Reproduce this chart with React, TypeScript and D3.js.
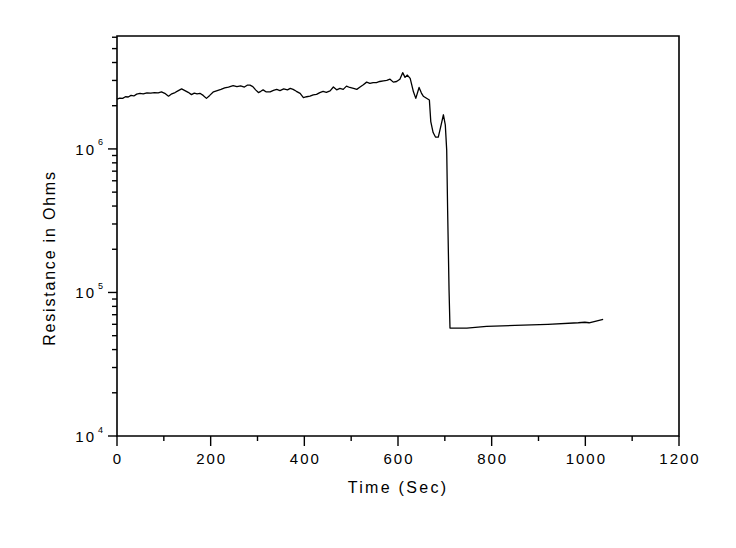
import React from 'react'
import * as d3 from 'd3'

// time in seconds
const times = [
  0, 6, 12, 18, 24, 30, 36, 42, 49, 56, 64, 72, 80, 88, 95, 102, 110, 117, 124, 131,
  138, 145, 152, 159, 165, 171, 177, 184, 191, 198, 206, 214, 222, 230, 238, 248, 256, 264, 272, 278,
  284, 290, 296, 302, 307, 312, 318, 327, 334, 341, 348, 356, 364, 370, 376, 383, 391, 398, 405, 412,
  419, 426, 433, 440, 447, 455, 462, 469, 476, 483, 490, 497, 505, 512, 519, 526, 533, 540, 547, 554,
  561, 569, 576, 583, 590, 597, 604, 610, 615, 620, 626, 633, 638, 645, 650, 654, 667, 670, 675, 680,
  686, 691, 697, 701, 704, 706, 709, 711, 747, 789, 850, 920, 985, 999, 1008, 1038,
]
// resistance in ohms
const resistance = [
  2.22e6, 2.26e6, 2.25e6, 2.31e6, 2.3e6, 2.36e6, 2.34e6, 2.41e6, 2.44e6, 2.42e6, 2.46e6, 2.45e6, 2.47e6, 2.46e6, 2.5e6, 2.44e6, 2.33e6, 2.42e6, 2.47e6, 2.55e6,
  2.62e6, 2.55e6, 2.48e6, 2.39e6, 2.45e6, 2.42e6, 2.44e6, 2.36e6, 2.25e6, 2.36e6, 2.5e6, 2.55e6, 2.6e6, 2.66e6, 2.7e6, 2.76e6, 2.72e6, 2.75e6, 2.7e6, 2.78e6,
  2.78e6, 2.72e6, 2.58e6, 2.47e6, 2.52e6, 2.58e6, 2.5e6, 2.5e6, 2.56e6, 2.6e6, 2.55e6, 2.62e6, 2.58e6, 2.64e6, 2.6e6, 2.52e6, 2.44e6, 2.28e6, 2.31e6, 2.33e6,
  2.38e6, 2.4e6, 2.47e6, 2.52e6, 2.48e6, 2.54e6, 2.7e6, 2.58e6, 2.64e6, 2.6e6, 2.74e6, 2.68e6, 2.64e6, 2.6e6, 2.7e6, 2.8e6, 2.92e6, 2.86e6, 2.9e6, 2.9e6,
  2.95e6, 2.98e6, 3.0e6, 3.06e6, 2.92e6, 2.95e6, 3.06e6, 3.4e6, 3.15e6, 3.27e6, 3.1e6, 2.5e6, 2.25e6, 2.68e6, 2.45e6, 2.33e6, 2.19e6, 1.55e6, 1.3e6, 1.21e6,
  1.21e6, 1.42e6, 1.73e6, 1.47e6, 9.8e5, 3.7e5, 1.04e5, 5.65e4, 5.65e4, 5.8e4, 5.9e4, 6.0e4, 6.15e4, 6.2e4, 6.15e4, 6.5e4,
]

const xMajorTicks = [0, 200, 400, 600, 800, 1000, 1200]
const xMinorTicks = [100, 300, 500, 700, 900, 1100]
const yMajorExps = [4, 5, 6]
const yMinorMult = [2, 3, 4, 5, 6, 7, 8, 9]

const W = 736
const H = 548
const margin = { top: 36, right: 57, bottom: 112, left: 117 }
const font = 'Arial, "Liberation Sans", sans-serif'

export default function App() {
  const x = d3.scaleLinear().domain([0, 1200]).range([margin.left, W - margin.right])
  const y = d3.scaleLog().domain([1e4, 6.12e6]).range([H - margin.bottom, margin.top])

  const pts = times.map((t, i) => [t, resistance[i]] as [number, number])
  const line = d3.line<[number, number]>()
    .x(d => x(d[0]))
    .y(d => y(d[1]))

  const x0 = x(0)
  const x1 = x(1200)
  const y0 = y.range()[0]
  const y1 = y.range()[1]

  const yMinor: number[] = []
  yMajorExps.forEach(e => {
    yMinorMult.forEach(m => {
      const v = m * Math.pow(10, e)
      if (v <= y.domain()[1]) yMinor.push(v)
    })
  })

  return (
    <svg width={W} height={H} style={{ position: 'absolute', left: 0, top: 0, background: '#fff' }}>
      <rect x={0} y={0} width={W} height={H} fill="#fff" />
      {/* frame */}
      <path d={`M${x0},${y1}H${x1}V${y0}H${x0}Z`} fill="none" stroke="#000" strokeWidth={1.6} />

      {/* x ticks */}
      {xMajorTicks.map(t => (
        <g key={'xm' + t}>
          <line x1={x(t)} x2={x(t)} y1={y0} y2={y0 + 10} stroke="#000" strokeWidth={1.4} />
          <text x={x(t) + 1} y={y0 + 28} textAnchor="middle" fontFamily={font} fontSize={15}
            letterSpacing={2} fill="#000">{t}</text>
        </g>
      ))}
      {xMinorTicks.map(t => (
        <line key={'xn' + t} x1={x(t)} x2={x(t)} y1={y0} y2={y0 + 5} stroke="#000" strokeWidth={1.4} />
      ))}

      {/* y ticks */}
      {yMajorExps.map(e => {
        const yy = y(Math.pow(10, e))
        return (
          <g key={'ym' + e}>
            <line x1={x0 - 9} x2={x0} y1={yy} y2={yy} stroke="#000" strokeWidth={1.4} />
            <text x={x0 - 21} y={yy + 6} textAnchor="end" fontFamily={font} fontSize={15}
              letterSpacing={2} fill="#000">10</text>
            <text x={x0 - 19} y={yy - 3.5} fontFamily={font} fontSize={9} fill="#000">{e}</text>
          </g>
        )
      })}
      {yMinor.map(v => (
        <line key={'yn' + v} x1={x0 - 5} x2={x0} y1={y(v)} y2={y(v)} stroke="#000" strokeWidth={1.4} />
      ))}

      {/* data */}
      <path d={line(pts) || ''} fill="none" stroke="#000" strokeWidth={1.3} strokeLinejoin="round" />

      {/* axis titles */}
      <text x={(x0 + x1) / 2} y={y0 + 57} textAnchor="middle" fontFamily={font} fontSize={16}
        letterSpacing={2.3} fill="#000">Time (Sec)</text>
      <text transform={`translate(55,${(y0 + y1) / 2 + 22}) rotate(-90)`} textAnchor="middle"
        fontFamily={font} fontSize={16} letterSpacing={1.8} fill="#000">Resistance in Ohms</text>
    </svg>
  )
}
